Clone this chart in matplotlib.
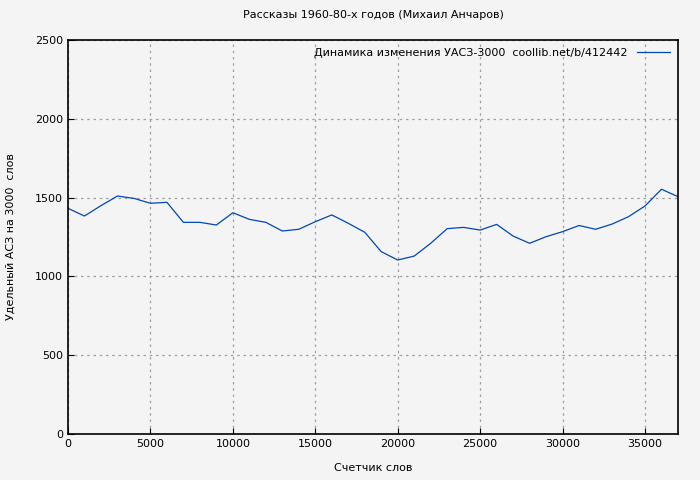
import matplotlib
matplotlib.use("Agg")
import matplotlib.pyplot as plt

words = list(range(0, 38000, 1000))
values = [1432, 1383, 1449, 1510, 1495, 1464, 1470, 1343, 1343, 1326, 1404, 1362, 1343, 1288, 1299,
          1347, 1390, 1337, 1280, 1157, 1104, 1129, 1210, 1303, 1311, 1294, 1330, 1256, 1210, 1252,
          1284, 1323, 1299, 1332, 1379, 1447, 1553, 1506]
xticks = list(range(0, 37000, 5000))
yticks = [0, 500, 1000, 1500, 2000, 2500]

fig = plt.figure(figsize=(7, 4.8), dpi=100)
fig.patch.set_facecolor("#f4f4f4")
ax = fig.add_axes([68/700, 46/480, 610/700, 394/480])
ax.set_facecolor("#f4f4f4")
ax.plot(words, values, color="#0047b3", lw=0.9,
        label="Динамика изменения УАСЗ-3000  coollib.net/b/412442")
ax.set_xlim(0, 37000)
ax.set_ylim(0, 2500)
ax.set_xticks(xticks)
ax.set_yticks(yticks)
ax.grid(True, color="#a0a0a0", ls=(0, (2, 3)), lw=0.9)
ax.tick_params(labelsize=8, direction="in", length=4)
for s in ax.spines.values():
    s.set_linewidth(1.2)
ax.set_title("Рассказы 1960-80-х годов (Михаил Анчаров)", fontsize=8, pad=16)
ax.set_xlabel("Счетчик слов", fontsize=8, labelpad=10)
ax.set_ylabel("Удельный АСЗ на 3000  слов", fontsize=8, labelpad=14)
leg = ax.legend(loc="upper right", fontsize=8, frameon=False, markerfirst=False,
                handlelength=3, borderaxespad=0.3)
fig.savefig("out.png", dpi=100, facecolor=fig.get_facecolor())
